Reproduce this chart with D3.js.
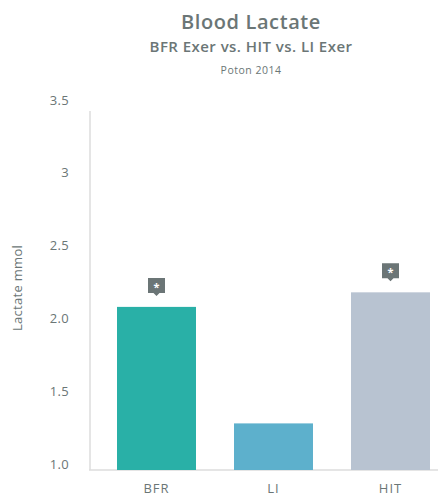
<!DOCTYPE html>
<html>
<head>
<meta charset="utf-8">
<script src="https://cdn.jsdelivr.net/npm/d3@7"></script>
<style>
  body { margin: 0; background: #fff; }
  text { font-family: "Open Sans", "DejaVu Sans", sans-serif; fill: #6b7676; }
</style>
</head>
<body>
<svg id="chart" width="438" height="496"></svg>
<script>
const categories = ["BFR", "LI", "HIT"];
const values = [2.1, 1.3, 2.2];
const colors = ["#29b0a7", "#5db0cc", "#b8c3d1"];
const significant = [true, false, true];
const tickValues = [1, 1.5, 2, 2.5, 3, 3.5];
const tickLabels = ["1.0", "1.5", "2.0", "2.5", "3", "3.5"];

const svg = d3.select("#chart"),
      width = +svg.attr("width"),
      height = +svg.attr("height");

const x = d3.scaleBand()
            .domain(categories)
            .range([98, 449])
            .paddingInner(0.325)
            .paddingOuter(0.1625);

const y = d3.scaleLinear()
            .domain([0.98, 3.5])
            .range([470, 103]);

// titles
svg.append("text")
   .attr("x", 251).attr("y", 29)
   .attr("text-anchor", "middle")
   .style("font-size", "20px")
   .style("font-weight", "600")
   .style("letter-spacing", "0.6px")
   .text("Blood Lactate");

svg.append("text")
   .attr("x", 251).attr("y", 52)
   .attr("text-anchor", "middle")
   .style("font-size", "15px")
   .style("font-weight", "600")
   .style("letter-spacing", "0.45px")
   .text("BFR Exer vs. HIT vs. LI Exer");

svg.append("text")
   .attr("x", 251).attr("y", 74)
   .attr("text-anchor", "middle")
   .style("font-size", "10.5px")
   .style("letter-spacing", "0.5px")
   .text("Poton 2014");

// y tick labels
svg.selectAll(".ytick")
   .data(tickValues)
   .enter().append("text")
   .attr("class", "ytick")
   .attr("x", 69)
   .attr("y", d => y(d) - 3)
   .attr("dy", "0.35em")
   .attr("text-anchor", "end")
   .style("font-size", "13px")
   .style("letter-spacing", "0.3px")
   .text((d, i) => tickLabels[i]);

svg.append("text")
   .attr("transform", "translate(22," + 288 + ") rotate(-90)")
   .attr("text-anchor", "middle")
   .style("font-size", "13px")
   .style("letter-spacing", "0.3px")
   .text("Lactate mmol");

// axis lines
svg.append("line")
   .attr("x1", 90).attr("x2", 90)
   .attr("y1", y(3.5) + 8).attr("y2", y(0.98))
   .style("stroke", "#dcdcdc").style("stroke-width", 1.5);

svg.append("line")
   .attr("x1", 89).attr("x2", width)
   .attr("y1", y(0.98)).attr("y2", y(0.98))
   .style("stroke", "#dcdcdc").style("stroke-width", 1.5);

// bars
svg.selectAll(".bar")
   .data(values)
   .enter().append("rect")
   .attr("class", "bar")
   .attr("x", (d, i) => x(categories[i]))
   .attr("y", d => y(d))
   .attr("width", x.bandwidth())
   .attr("height", d => y(0.98) - y(d))
   .style("fill", (d, i) => colors[i]);

// significance markers
const marks = svg.selectAll(".mark")
   .data(values.map((v, i) => ({ v: v, c: categories[i], s: significant[i] })).filter(d => d.s))
   .enter().append("g")
   .attr("class", "mark")
   .attr("transform", d => "translate(" + (x(d.c) + x.bandwidth() / 2) + "," + (y(d.v) - 11) + ")");

marks.append("path")
   .attr("d", "M-8.5,-18 H8.5 V-3 H3 L0,0 L-3,-3 H-8.5 Z")
   .style("fill", "#6b7576");

marks.append("text")
   .attr("x", 0).attr("y", -5)
   .attr("text-anchor", "middle")
   .style("font-size", "11px")
   .style("font-weight", "700")
   .style("fill", "#fff")
   .text("*");

// category labels
svg.selectAll(".xlabel")
   .data(categories)
   .enter().append("text")
   .attr("class", "xlabel")
   .attr("x", d => x(d) + x.bandwidth() / 2)
   .attr("y", 493)
   .attr("text-anchor", "middle")
   .style("font-size", "13px")
   .style("font-weight", "500")
   .style("letter-spacing", "1px")
   .text(d => d);
</script>
</body>
</html>
